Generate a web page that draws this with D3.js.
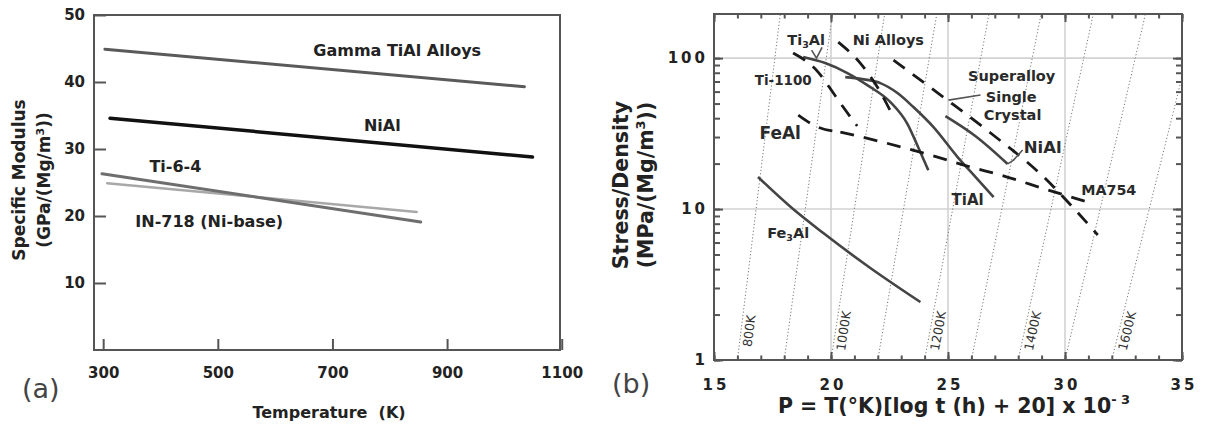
<!DOCTYPE html>
<html><head><meta charset="utf-8">
<script src="https://cdn.jsdelivr.net/npm/d3@7"></script>
<style>
body{margin:0;background:#fff}
svg{display:block}
text{font-family:"DejaVu Sans",Verdana,sans-serif}
</style>
</head><body>
<script>
// ================= DATA: panel (a) =================
const tempTicksA = [300, 500, 700, 900, 1100];
const modTicksA  = [10, 20, 30, 40, 50];
const gammaT = [303, 1035],  gammaE = [44.9, 39.3];
const nialT  = [312, 1049],  nialE  = [34.6, 28.8];
const ti64T  = [298, 854],   ti64E  = [26.3, 19.1];
const in718T = [307, 847],   in718E = [24.9, 20.6];
const labelsA = ["Gamma TiAl Alloys", "NiAl", "Ti-6-4", "IN-718 (Ni-base)"];
const labelsAT = [813, 787, 426, 485];
const labelsAE = [44.8, 33.6, 27.5, 19.25];

// ================= DATA: panel (b) =================
const pTicksB = [15, 20, 25, 30, 35];
const stressTicksB = [1, 10, 100];
const gridP = [20, 25, 30];
const gridS = [10, 100];
const isoTemps = [800, 900, 1000, 1100, 1200, 1300, 1400, 1500, 1600];
const isoLabelled = [800, 1000, 1200, 1400, 1600];

const fe3alP = [16.88, 18.38, 19.67, 21.68, 23.82];
const fe3alS = [16.3, 10.0, 6.93, 4.07, 2.42];
const ti3alP = [18.81, 19.75, 20.70, 21.55, 22.54, 23.27, 23.74, 24.16];
const ti3alS = [101.6, 92.7, 79.6, 66.2, 51.1, 36.6, 25.4, 18.1];
const tialP  = [20.61, 21.34, 22.11, 22.84, 23.52, 24.38, 25.41, 26.18, 26.95];
const tialS  = [74.8, 72.6, 68.3, 58.7, 47.4, 34.9, 22.1, 16.3, 12.0];
const niallP = [24.89, 26.18, 27.55];
const niallS = [41.3, 30.4, 19.9];
const ti1100P = [18.38, 19.45, 20.10, 20.52, 21.12];
const ti1100S = [108, 80.8, 58.7, 47.4, 35.5];
const niAlloyP = [20.31, 21.25, 21.98, 22.67];
const niAlloyS = [127.6, 92.7, 64.3, 40.7];
const superP = [22.67, 24.81, 26.82, 29.09, 30.33, 31.40];
const superS = [97.0, 55.0, 31.9, 16.3, 10.3, 6.73];
const feAlP = [18.60, 19.33, 20.40];
const feAlS = [41.9, 35.5, 32.4];
const ma754P = [20.40, 22.19, 24.25, 25.96, 27.25, 29.26, 31.10];
const ma754S = [32.4, 27.8, 22.8, 19.0, 16.8, 13.4, 10.96];

const ti3alLeaderP = [19.17, 19.38, 19.62], ti3alLeaderS = [113, 100, 118];
const superLeaderP = [25.02, 26.39],        superLeaderS = [52.7, 56.9];
const nialLeaderP  = [27.55, 27.80, 28.19], nialLeaderS  = [19.9, 21.1, 24.6];

const labelsB  = ["Ni Alloys", "Ti-1100", "FeAl", "TiAl", "NiAl", "MA754", "Superalloy", "Single", "Crystal"];
const labelsBP = [22.45, 17.96, 17.83, 25.84, 29.05, 31.87, 27.72, 27.70, 27.76];
const labelsBS = [131.6, 71.5, 31.9, 11.5, 25.7, 13.4, 76.0, 55.2, 42.0];
const subLabelsB = [["Ti", "3", "Al"], ["Fe", "3", "Al"]];
const subLabelsBP = [18.94, 18.17];
const subLabelsBS = [131.6, 6.93];

// ================= DRAWING =================
const W = 1206, H = 427;
const FRAME = "#555", INK = "#222";
const svg = d3.select("body").append("svg").attr("width", W).attr("height", H);
svg.append("rect").attr("width", W).attr("height", H).attr("fill", "#fff");

const zip = (a, b) => a.map((v, i) => [v, b[i]]);

// ---------- Panel (a) ----------
const xA = d3.scaleLinear().domain([284, 1097]).range([94, 560]);
const yA = d3.scaleLinear().domain([0, 50]).range([350, 15]);
const gA = svg.append("g");

function styleAxis(g, size) {
  g.select(".domain").remove();
  g.selectAll(".tick line").attr("stroke", FRAME).attr("stroke-width", 2);
  g.selectAll(".tick text").attr("fill", INK).attr("font-size", size).attr("font-weight", "bold")
    .attr("font-family", "DejaVu Sans");
}

gA.append("g").attr("transform", `translate(${xA(284)},0)`)
  .call(d3.axisLeft(yA).tickValues(modTicksA).tickSizeInner(-12).tickSizeOuter(0).tickPadding(9)
    .tickFormat(d3.format("d")))
  .call(g => styleAxis(g, 15));
gA.append("g").attr("transform", `translate(0,${yA(0)})`)
  .call(d3.axisBottom(xA).tickValues(tempTicksA).tickSizeInner(-11).tickSizeOuter(0).tickPadding(17)
    .tickFormat(d3.format("d")))
  .call(g => styleAxis(g, 15));

gA.append("rect").attr("x", xA(284)).attr("y", yA(50)).attr("width", xA(1097) - xA(284))
  .attr("height", yA(0) - yA(50)).attr("fill", "none").attr("stroke", FRAME).attr("stroke-width", 2);

const lineA = d3.line().x(d => xA(d[0])).y(d => yA(d[1]));
const seriesA = [
  {d: zip(gammaT, gammaE), c: "#5a5a5a", w: 3},
  {d: zip(nialT, nialE), c: "#111", w: 3.5},
  {d: zip(in718T, in718E), c: "#a8a8a8", w: 2.5},
  {d: zip(ti64T, ti64E), c: "#6e6e6e", w: 3}
];
seriesA.forEach(s => gA.append("path").attr("d", lineA(s.d)).attr("fill", "none")
  .attr("stroke", s.c).attr("stroke-width", s.w).attr("stroke-linecap", "round"));

labelsA.forEach((t, i) => gA.append("text").attr("x", xA(labelsAT[i])).attr("y", yA(labelsAE[i]))
  .attr("dy", "0.36em").attr("text-anchor", "middle").attr("font-size", 16).attr("font-weight", "bold")
  .attr("fill", INK).text(t));

// titles (a)
gA.append("text").attr("x", 329).attr("y", 418).attr("text-anchor", "middle").attr("font-size", 16)
  .attr("font-weight", "bold").attr("fill", INK).text("Temperature\u00a0\u00a0(K)");
gA.append("text").attr("transform", "translate(25,180) rotate(-90)").attr("text-anchor", "middle")
  .attr("font-size", 17).attr("font-weight", "bold").attr("fill", INK).text("Specific Modulus");
const ytA2 = gA.append("text").attr("transform", "translate(50,180) rotate(-90)").attr("text-anchor", "middle")
  .attr("font-size", 17).attr("font-weight", "bold").attr("fill", INK);
ytA2.append("tspan").text("(GPa/(Mg/m");
ytA2.append("tspan").attr("font-size", 11).attr("dy", -6).text("3");
ytA2.append("tspan").attr("dy", 6).text("))");
gA.append("text").attr("x", 22).attr("y", 398).attr("font-size", 27).attr("fill", "#444").text("(a)");

// ---------- Panel (b) ----------
const xB = d3.scaleLinear().domain([15, 35]).range([714, 1182]);
const yB = d3.scaleLog().domain([1, 196]).range([360, 14]);
const gB = svg.append("g");

gB.append("clipPath").attr("id", "clipB").append("rect")
  .attr("x", xB(15)).attr("y", yB(196)).attr("width", xB(35) - xB(15)).attr("height", yB(1) - yB(196));
const plotB = gB.append("g").attr("clip-path", "url(#clipB)");

// grid
gridS.forEach(s => plotB.append("line").attr("x1", xB(15)).attr("x2", xB(35)).attr("y1", yB(s)).attr("y2", yB(s))
  .attr("stroke", "#d2d2d2").attr("stroke-width", 1.6));
gridP.forEach(p => plotB.append("line").attr("x1", xB(p)).attr("x2", xB(p)).attr("y1", yB(1)).attr("y2", yB(196))
  .attr("stroke", "#d2d2d2").attr("stroke-width", 1.6));

// isotherms: P = T (log t + 20) 1e-3, drawn as constant-T reference lines
const sTop = yB.domain()[1];
const isoP = (T, s) => T * (20 + Math.log10(s)) / 1000;
isoTemps.forEach(T => plotB.append("line")
  .attr("x1", xB(isoP(T, 1))).attr("y1", yB(1)).attr("x2", xB(isoP(T, sTop))).attr("y2", yB(sTop))
  .attr("stroke", "#777").attr("stroke-width", 1).attr("stroke-dasharray", "1.2,2.2"));
isoLabelled.forEach(T => {
  const sL = 1.56;
  const x = xB(isoP(T, sL)) + 8, y = yB(sL);
  const dx = xB(isoP(T, 10)) - xB(isoP(T, 1)), dy = yB(10) - yB(1);
  const ang = Math.atan2(dy, dx) * 180 / Math.PI;
  gB.append("text").attr("transform", `translate(${x},${y}) rotate(${ang})`).attr("text-anchor", "middle")
    .attr("dy", "0.36em").attr("font-size", 12.5).attr("fill", "#333").text(T + "K");
});

// data curves
const lineB = d3.line().x(d => xB(d[0])).y(d => yB(d[1])).curve(d3.curveMonotoneX);
const solid = {c: "#444", w: 2.6, dash: null};
const dashed = {c: "#1a1a1a", w: 2.8, dash: "14,10"};
const seriesB = [
  [fe3alP, fe3alS, solid], [ti3alP, ti3alS, solid], [tialP, tialS, solid], [niallP, niallS, solid],
  [ti1100P, ti1100S, dashed], [niAlloyP, niAlloyS, dashed], [superP, superS, dashed],
  [feAlP, feAlS, dashed], [ma754P, ma754S, dashed]
];
seriesB.forEach(([P, S, st]) => plotB.append("path").attr("d", lineB(zip(P, S))).attr("fill", "none")
  .attr("stroke", st.c).attr("stroke-width", st.w).attr("stroke-dasharray", st.dash));

// leaders
const leaderLine = d3.line().x(d => xB(d[0])).y(d => yB(d[1]));
[[ti3alLeaderP, ti3alLeaderS], [superLeaderP, superLeaderS], [nialLeaderP, nialLeaderS]].forEach(([P, S]) =>
  gB.append("path").attr("d", leaderLine(zip(P, S))).attr("fill", "none").attr("stroke", "#555").attr("stroke-width", 1.6));

// ticks (inward)
const minorS = yB.ticks();
const allP = d3.range(15, 36);
const spaced = v => String(v).split("").join("\u2009");
const mkAxis = (axis, g) => g.call(axis).call(gg => styleAxis(gg, 15));
mkAxis(d3.axisLeft(yB).tickValues(minorS).tickSizeInner(-6).tickSizeOuter(0).tickFormat(""),
  gB.append("g").attr("transform", `translate(${xB(15)},0)`));
mkAxis(d3.axisLeft(yB).tickValues(stressTicksB).tickSizeInner(-9).tickSizeOuter(0).tickPadding(9)
  .tickFormat(spaced),
  gB.append("g").attr("transform", `translate(${xB(15)},0)`));
mkAxis(d3.axisRight(yB).tickValues(minorS).tickSizeInner(-6).tickSizeOuter(0).tickFormat(""),
  gB.append("g").attr("transform", `translate(${xB(35)},0)`));
mkAxis(d3.axisRight(yB).tickValues(stressTicksB).tickSizeInner(-9).tickSizeOuter(0).tickFormat(""),
  gB.append("g").attr("transform", `translate(${xB(35)},0)`));
mkAxis(d3.axisBottom(xB).tickValues(allP).tickSizeInner(-4.5).tickSizeOuter(0).tickFormat(""),
  gB.append("g").attr("transform", `translate(0,${yB(1)})`));
mkAxis(d3.axisBottom(xB).tickValues(pTicksB).tickSizeInner(-8).tickSizeOuter(0).tickPadding(19)
  .tickFormat(spaced),
  gB.append("g").attr("transform", `translate(0,${yB(1)})`));
mkAxis(d3.axisTop(xB).tickValues(allP).tickSizeInner(-4.5).tickSizeOuter(0).tickFormat(""),
  gB.append("g").attr("transform", `translate(0,${yB(196)})`));
mkAxis(d3.axisTop(xB).tickValues(pTicksB).tickSizeInner(-8).tickSizeOuter(0).tickFormat(""),
  gB.append("g").attr("transform", `translate(0,${yB(196)})`));

gB.append("rect").attr("x", xB(15)).attr("y", yB(196)).attr("width", xB(35) - xB(15))
  .attr("height", yB(1) - yB(196)).attr("fill", "none").attr("stroke", FRAME).attr("stroke-width", 2);

// curve labels
const labelSizesB = [14.5, 13.5, 17, 15, 16.5, 14.3, 14.5, 14.5, 14.5];
labelsB.forEach((t, i) => gB.append("text").attr("x", xB(labelsBP[i])).attr("y", yB(labelsBS[i]))
  .attr("dy", "0.36em").attr("text-anchor", "middle").attr("font-size", labelSizesB[i])
  .attr("font-weight", "bold").attr("fill", "#2a2a2a").text(t));
subLabelsB.forEach((parts, i) => {
  const t = gB.append("text").attr("x", xB(subLabelsBP[i])).attr("y", yB(subLabelsBS[i]))
    .attr("dy", "0.36em").attr("text-anchor", "middle").attr("font-size", 14.5)
    .attr("font-weight", "bold").attr("fill", "#2a2a2a");
  t.append("tspan").text(parts[0]);
  t.append("tspan").attr("font-size", 9.5).attr("dy", 3).text(parts[1]);
  t.append("tspan").attr("dy", -3).text(parts[2]);
});

// titles (b)
const xtB = gB.append("text").attr("x", 954).attr("y", 413).attr("text-anchor", "middle")
  .attr("font-size", 20.5).attr("font-weight", "bold").attr("fill", INK);
xtB.append("tspan").text("P = T(\u00b0K)[log t (h) + 20] x 10");
xtB.append("tspan").attr("font-size", 13).attr("dy", -9).text("-\u00a03");
gB.append("text").attr("transform", "translate(628,185) rotate(-90)").attr("text-anchor", "middle")
  .attr("font-size", 20.5).attr("font-weight", "bold").attr("fill", INK).text("Stress/Density");
const ytB2 = gB.append("text").attr("transform", "translate(653,185) rotate(-90)").attr("text-anchor", "middle")
  .attr("font-size", 20.5).attr("font-weight", "bold").attr("fill", INK);
ytB2.append("tspan").text("(MPa/(Mg/m");
ytB2.append("tspan").attr("font-size", 13).attr("dy", -8).text("3");
ytB2.append("tspan").attr("dy", 8).text("))");
gB.append("text").attr("x", 612).attr("y", 393).attr("font-size", 27).attr("fill", "#444").text("(b)");
</script>
</body></html>
